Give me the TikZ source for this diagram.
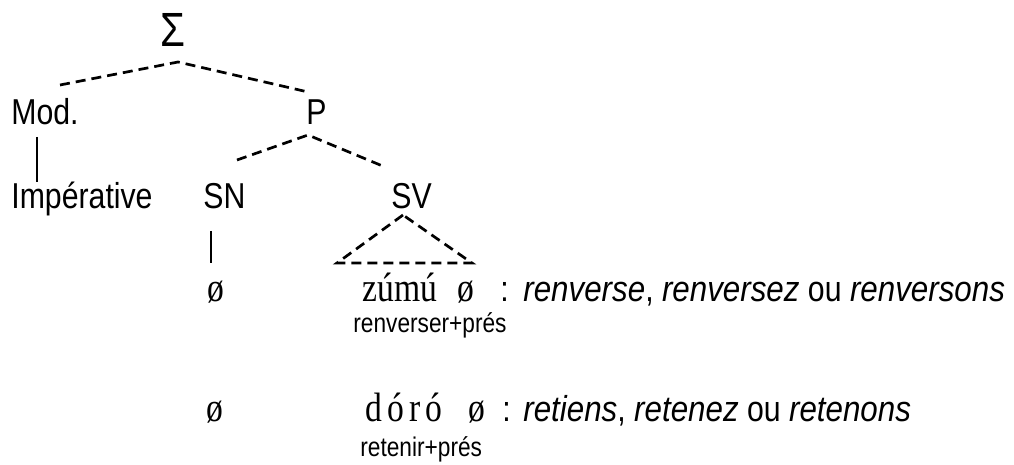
\documentclass[tikz,border=0pt]{standalone}
\usepackage{fontspec}
\setmainfont{Liberation Sans}[FakeStretch=0.84,ItalicFeatures={FakeStretch=0.87}]
\newfontfamily\serifrm{Liberation Serif}[FakeStretch=0.82]
\usetikzlibrary{calc}

\tikzset{
  lab/.style={inner sep=0pt,anchor=base west,font=\fontsize{18}{20}\selectfont},
  gloss/.style={inner sep=0pt,anchor=base west,font=\fontsize{13.5}{15}\selectfont},
  word/.style={inner sep=0pt,anchor=base west,font=\serifrm\fontsize{20.5}{22}\selectfont},
  branch/.style={line width=1.35pt,dash pattern=on 5pt off 3pt},
  stem/.style={line width=0.7pt}
}

\begin{document}
\begin{tikzpicture}[x=0.5pt,y=-0.5pt]
    \useasboundingbox (0,0) rectangle (1014,465);
    % tree labels
    \node[inner sep=0pt,anchor=base,font=\fontsize{24}{26}\selectfont] (sigma) at (173,47) {Σ};
    \node[lab] (mod) at (11,125) {Mod.};
    \node[lab] (p) at (306,125) {P};
    \node[lab] (imp) at (11,209) {Impérative};
    \node[lab] (sn) at (203,209) {SN};
    \node[lab] (sv) at (391,209) {SV};
    % branch points
    \coordinate (sigma-b) at (178,62);
    \coordinate (mod-t) at (60,85);
    \coordinate (p-t) at (308,92);
    \coordinate (p-b) at (308,135);
    \coordinate (sn-t) at (237,160);
    \coordinate (sv-t) at (385,167);
    \coordinate (sv-b) at (403,215);
    \coordinate (tri-l) at (337,263);
    \coordinate (tri-r) at (472,263);
    \draw[branch] (mod-t) -- (sigma-b) -- (p-t);
    \draw[branch] (sn-t) -- (p-b) -- (sv-t);
    \draw[branch] (sv-b) -- (tri-l) -- (tri-r) -- cycle;
    % stems
    \draw[stem] (37,137) -- (37,182);
    \draw[stem] (211,231) -- (211,263);
    % first example
    \node[word] (zero1) at (207,302) {ø};
    \node[word] (zumu) at (362,302) {zúmú};
    \node[word] (zero1b) at (457,302) {ø};
    \node[lab] (colon1) at (500,302) {:};
    \node[lab] (trans1) at (523,302) {\textit{renverse}, \textit{renversez} ou \textit{renversons}};
    \node[gloss] (gl1) at (353,333) {renverser+prés};
    % second example
    \node[word] (zero2) at (206,422) {ø};
    \node[word] (doro) at (365,422) {d\kern2.5pt ó\kern2.5pt r\kern2.5pt ó};
    \node[word] (zero2b) at (468,422) {ø};
    \node[lab] (colon2) at (502,422) {:};
    \node[lab] (trans2) at (523,422) {\textit{retiens}, \textit{retenez} ou \textit{retenons}};
    \node[gloss] (gl2) at (360,457) {retenir+prés};
\end{tikzpicture}
\end{document}
